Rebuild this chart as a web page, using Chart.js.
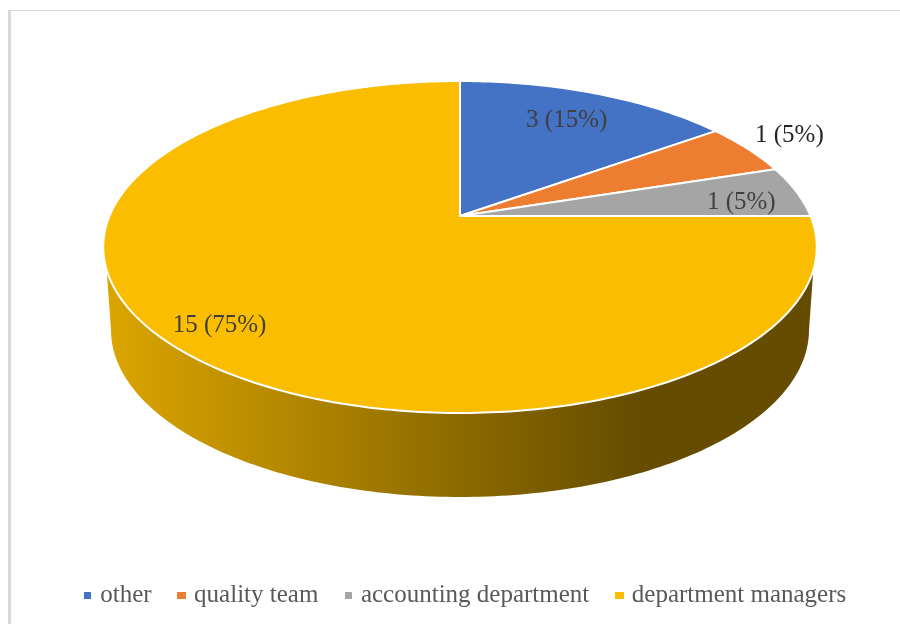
<!DOCTYPE html>
<html><head><meta charset="utf-8">
<script src="https://cdn.jsdelivr.net/npm/chart.js@4"></script>
<style>html,body{margin:0;padding:0;background:#fff;overflow:hidden}#w{position:absolute;left:0;top:0;width:900px;height:624px}
#f{position:absolute;left:8px;top:10px;width:892px;height:614px;border-left:3px solid #d9d9d9;border-top:1px solid #d9d9d9;box-sizing:border-box}
canvas{position:absolute;left:0;top:0}</style>
</head><body><div id="w"><div id="f"></div><canvas id="c" width="900" height="624"></canvas></div>
<script>
const categories=['other','quality team','accounting department','department managers'];
const values=[3,1,1,15];
const valueLabels=['3 (15%)','1 (5%)','1 (5%)','15 (75%)'];
const colors=['#4472C4','#ED7D31','#A5A5A5','#FBBD00'];
const labelColors=['#404040','#262626','#404040','#404040'];
const labelRadius=[0.755,1.175,0.82,0.86];
const labelTurn=[0,-0.003,0.0083,0];

// perspective view of the round pie
const P={cx:460,cy:216,A:350.5,B:160.2,k:0.1867};
function project(a,r){const u=Math.cos(a)*r,v=Math.sin(a)*r,d=1-P.k*v;
  return [P.cx+P.A*u/d,P.cy+P.B*v/d];}
function wedge(ctx,a0,a1){ctx.beginPath();ctx.moveTo(P.cx,P.cy);
  const n=Math.max(8,Math.ceil((a1-a0)*60));
  for(let i=0;i<=n;i++){const p=project(a0+(a1-a0)*i/n,1);ctx.lineTo(p[0],p[1]);}
  ctx.closePath();}
function swatch(c,w,h){const s=document.createElement('canvas');s.width=w;s.height=h;
  const x=s.getContext('2d');x.fillStyle=c;x.fillRect(0,0,w,h);return s;}
const pie3d={id:'pie3d',
 beforeDatasetDraw(chart){
  const ctx=chart.ctx,arcs=chart.getDatasetMeta(0).data;
  ctx.save();
  // side wall
  const g=ctx.createLinearGradient(104,0,817,0);
  g.addColorStop(0,'#DCA600');g.addColorStop(0.26,'#B38700');g.addColorStop(0.5,'#8C6A00');
  g.addColorStop(0.75,'#654C00');g.addColorStop(1,'#654C00');
  ctx.fillStyle=g;ctx.beginPath();
  const N=160,a0=0.323;
  for(let i=0;i<=N;i++){const p=project(a0+(Math.PI-2*a0)*i/N,1);
    i?ctx.lineTo(p[0],p[1]):ctx.moveTo(p[0],p[1]);}
  const bx=460,by=330,brx=349,bry=167;
  for(let i=0;i<=N;i++){const t=Math.PI*i/N;ctx.lineTo(bx-brx*Math.cos(t),by+bry*Math.sin(t));}
  ctx.closePath();ctx.fill();
  // top face from the arc elements' angles
  arcs.forEach((arc,i)=>{const s=arc.getProps(['startAngle','endAngle'],true);
    wedge(ctx,s.startAngle,s.endAngle);ctx.fillStyle=colors[i];ctx.fill();
    ctx.strokeStyle='#fff';ctx.lineWidth=2;ctx.lineJoin='round';ctx.stroke();});
  // value labels
  ctx.font='25px "Liberation Serif"';ctx.textAlign='center';ctx.textBaseline='middle';
  arcs.forEach((arc,i)=>{const s=arc.getProps(['startAngle','endAngle'],true);
    const m=(s.startAngle+s.endAngle)/2+labelTurn[i]*Math.PI*2;
    const p=project(m,labelRadius[i]);ctx.fillStyle=labelColors[i];ctx.fillText(valueLabels[i],p[0],p[1]);});
  ctx.restore();
  return false;
 }};
new Chart(document.getElementById('c'),{type:'pie',plugins:[pie3d],
 data:{labels:categories,datasets:[{data:values,backgroundColor:colors,borderWidth:0}]},
 options:{responsive:false,animation:false,events:[],
  layout:{padding:{left:34,right:0,top:11,bottom:6}},
  plugins:{tooltip:{enabled:false},
   legend:{position:'bottom',labels:{boxWidth:0.01,boxHeight:8,padding:30,color:'#595959',usePointStyle:true,
     font:{family:'"Liberation Serif"',size:25},
     generateLabels(chart){return categories.map((t,i)=>({text:t,index:i,fontColor:'#595959',
       pointStyle:swatch(colors[i],i%2?9:7,7),lineWidth:0,hidden:false}));}}}}}});
</script></body></html>
